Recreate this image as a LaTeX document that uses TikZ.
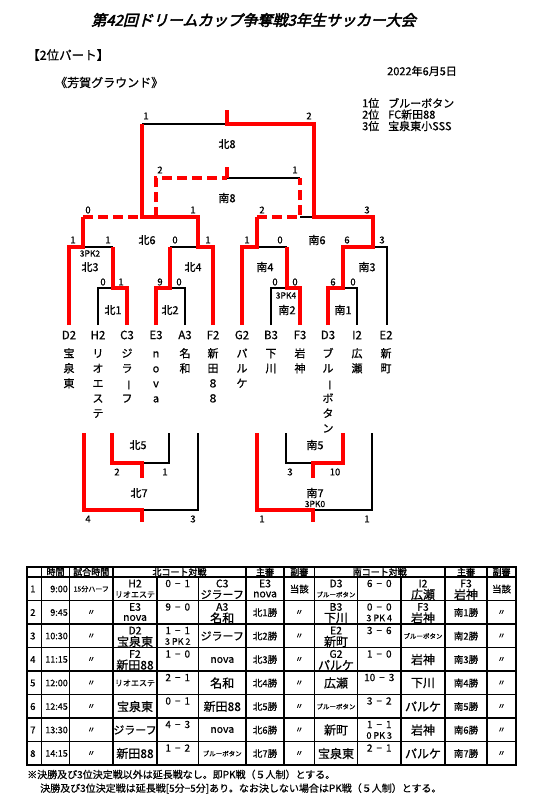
\documentclass[tikz,border=0pt]{standalone}
\usepackage{fontspec}
\setmainfont{Noto Sans CJK JP}[FakeBold=0.6]
\newfontfamily\titlefont[FakeSlant=0.25,FakeBold=3]{Noto Sans CJK JP}
\newfontfamily\boldjp[FakeBold=1.8]{Noto Sans CJK JP}
\newcommand\fsz[1]{\fontsize{#1}{#1}\selectfont}
\newcommand\vbar{\rotatebox[origin=c]{-90}{ー}}
\newcommand\scr[2]{#1\hspace{4pt}−\hspace{4pt}#2}
\newcommand\tcell[6]{\node[cd] (#1a) at (#2,#3+6.5) {#4}; \node[#5] (#1b) at (#2,#3+17.5) {#6};}
\begin{document}
\begin{tikzpicture}[x=1pt,y=-1pt,
  rl/.style={draw=red,line width=3.6pt},
  rd/.style={draw=red,line width=3.6pt,dash pattern=on 10pt off 5pt},
  bl/.style={draw=black,line width=1.6pt},
  tl/.style={draw=black,line width=1.2pt},
  sc/.style={inner sep=0,font=\fsz{9.5}},
  mt/.style={inner sep=0,font=\fsz{11}},
  pkb/.style={inner sep=0,font=\fsz{8.5}},
  cd/.style={inner sep=0,font=\fsz{10.5}},
  nm/.style={inner sep=0,font=\fsz{12}},
  nmm/.style={inner sep=0,font=\fsz{11}},
  sm/.style={inner sep=0,font=\fsz{8}},
  xs/.style={inner sep=0,font=\fsz{6.5}},
  sr/.style={inner sep=0,font=\fsz{10}},
  pkt/.style={inner sep=0,font=\fsz{9}},
  wn/.style={inner sep=0,font=\fsz{9.5}},
  dt/.style={inner sep=0,font=\fsz{8}},
  hd/.style={inner sep=0,font=\boldjp\fsz{9}},
  tc/.style={inner sep=0,font=\fsz{11.5}},
  tn/.style={inner sep=0,font=\fontsize{11}{15}\selectfont,align=center,anchor=north}
]
\useasboundingbox (0,0) rectangle (535,795);
\fill[white] (0,0) rectangle (535,795);

% headings
\node[inner sep=0,font=\titlefont\fsz{15}] (title) at (253.5,20) {第42回ドリームカップ争奪戦3年生サッカー大会};
\node[inner sep=0,font=\fsz{12.5},anchor=west] (part) at (27,55) {【2位パート】};
\node[inner sep=0,font=\fsz{11},anchor=west] (date) at (387,71) {2022年6月5日};
\node[inner sep=0,font=\fsz{12},anchor=west] (ground) at (55,82.5) {《芳賀グラウンド》};
\node[inner sep=0,font=\fsz{11},anchor=west] (p1) at (362,103) {1位};
\node[inner sep=0,font=\fsz{11},anchor=west] (p1n) at (388,103) {ブルーボタン};
\node[inner sep=0,font=\fsz{11},anchor=west] (p2) at (362,114.5) {2位};
\node[inner sep=0,font=\fsz{11},anchor=west] (p2n) at (388,114.5) {FC新田88};
\node[inner sep=0,font=\fsz{11},anchor=west] (p3) at (362,126) {3位};
\node[inner sep=0,font=\fsz{11},anchor=west] (p3n) at (388,126) {宝泉東小SSS};

% ---- upper bracket: black lines
\draw[bl] (142,124) -- (227,124);
\draw[bl] (227,178) -- (300,178);
\draw[bl] (300,217) -- (314,217);
\draw[bl] (83,247) -- (113,247);
\draw[bl] (98,325) -- (98,288) -- (113,288);
\draw[bl] (170,247) -- (198,247);
\draw[bl] (185,325) -- (185,288) -- (170,288);
\draw[bl] (257,247) -- (287,247);
\draw[bl] (271,325) -- (271,288) -- (287,288);
\draw[bl] (373,247) -- (387,247) -- (387,325);
\draw[bl] (343,288) -- (357,288) -- (357,325);
% red lines
\draw[rl] (328,325) -- (328,288) -- (343,288) -- (343,247) -- (373,247) -- (373,217) -- (314,217) -- (314,124) -- (227,124) -- (227,110);
\draw[rl] (213,325) -- (213,247) -- (198,247) -- (198,217) -- (142,217) -- (142,124);
\draw[rl] (69,325) -- (69,247) -- (83,247) -- (83,217);
\draw[rd] (83,217) -- (142,217);
\draw[rd] (156,217) -- (156,178) -- (227,178);
\draw[rl] (227,178) -- (227,167);
\draw[rl] (127,325) -- (127,288) -- (113,288) -- (113,247);
\draw[rl] (156,325) -- (156,288) -- (170,288) -- (170,247);
\draw[rl] (242,325) -- (242,247) -- (257,247) -- (257,217);
\draw[rd] (257,217) -- (300,217) -- (300,178);
\draw[rl] (300,325) -- (300,288) -- (287,288) -- (287,247);

% upper labels
\node[sc] (u1) at (146,116) {1};
\node[sc] (u2) at (309,116) {2};
\node[mt] (k8) at (227,144) {北8};
\node[sc] (u3) at (160,170) {2};
\node[sc] (u4) at (295,170) {1};
\node[mt] (m8) at (227,198) {南8};
\node[sc] (u5) at (88,210) {0};
\node[sc] (u6) at (193,210) {1};
\node[sc] (u7) at (262,210) {2};
\node[sc] (u8) at (367,210) {3};
\node[sc] (v1) at (73,240) {1};
\node[sc] (v2) at (108,240) {1};
\node[mt] (k6) at (147,240) {北6};
\node[sc] (v3) at (175,240) {0};
\node[sc] (v4) at (208,240) {1};
\node[sc] (v5) at (247,240) {1};
\node[sc] (v6) at (280,240) {0};
\node[mt] (m6) at (317,240) {南6};
\node[sc] (v7) at (347,240) {6};
\node[sc] (v8) at (382,240) {3};
\node[pkb] (pk32) at (90,253.5) {3PK2};
\node[mt] (k3) at (90,267) {北3};
\node[mt] (k4) at (193,267) {北4};
\node[mt] (m4) at (265,267) {南4};
\node[mt] (m3) at (367,267) {南3};
\node[sc] (w1) at (103,282) {0};
\node[sc] (w2) at (121,282) {1};
\node[sc] (w3) at (160,282) {9};
\node[sc] (w4) at (179,282) {0};
\node[sc] (w5) at (275,282) {0};
\node[sc] (w6) at (295,282) {0};
\node[sc] (w7) at (333,282) {6};
\node[sc] (w8) at (353,282) {0};
\node[pkb] (pk34) at (286,295.5) {3PK4};
\node[mt] (k1) at (113,310) {北1};
\node[mt] (k2) at (170,310) {北2};
\node[mt] (m2) at (287,310) {南2};
\node[mt] (m1) at (343,310) {南1};

% teams
\foreach \i/\x/\c/\n in {1/69/D2/{宝\\泉\\東},2/98/H2/{リ\\オ\\エ\\ス\\テ},3/127/C3/{ジ\\ラ\\\vbar\\フ},4/156/E3/{n\\o\\v\\a},5/185/A3/{名\\和},6/213/F2/{新\\田\\８\\８},7/242/G2/{パ\\ル\\ケ},8/271/B3/{下\\川},9/300/F3/{岩\\神},10/328/D3/{ブ\\ル\\\vbar\\ボ\\タ\\ン},11/357/I2/{広\\瀬},12/386/E2/{新\\町}}{
  \node[tc] (tc\i) at (\x,335) {\c};
  \node[tn] (tn\i) at (\x,347.7) {\rule{0pt}{9.5pt}\n};
}

% ---- lower bracket
\draw[bl] (142,463) -- (169,463) -- (169,433);
\draw[bl] (142,510) -- (198,510) -- (198,433);
\draw[bl] (286,433) -- (286,463) -- (313,463);
\draw[bl] (313,510) -- (372,510) -- (372,433);
\draw[rl] (112,433) -- (112,463) -- (142,463) -- (142,478);
\draw[rl] (84,433) -- (84,510) -- (142,510) -- (142,522);
\draw[rl] (343,433) -- (343,463) -- (313,463) -- (313,478);
\draw[rl] (257,433) -- (257,510) -- (313,510) -- (313,522);
\node[mt] (k5) at (138,445) {北5};
\node[sc] (x1) at (117,472) {2};
\node[sc] (x2) at (165,472) {1};
\node[mt] (k7) at (139,493) {北7};
\node[sc] (x3) at (88,519) {4};
\node[sc] (x4) at (193,519) {3};
\node[mt] (m5) at (315,445) {南5};
\node[sc] (x5) at (290,472) {3};
\node[sc] (x6) at (335,472) {10};
\node[mt] (m7) at (315,493) {南7};
\node[pkb] (pk30) at (315,504) {3PK0};
\node[sc] (x7) at (262,519) {1};
\node[sc] (x8) at (367,519) {1};

% ---- table grid
\foreach \y in {577,600.5,624,647.5,671,694.5,718,741.5}{\draw[tl] (27,\y) -- (516,\y);}
\foreach \x in {41.5,69.5,113,246,284,314.5,445,487}{\draw[tl] (\x,567) -- (\x,765);}
\foreach \x in {157,198.5,357.5,401}{\draw[tl] (\x,577) -- (\x,765);}
\draw[line width=1.9pt] (27,567) rectangle (516,765);

% header
\node[hd] (h1) at (55.5,572) {時間};
\node[hd] (h2) at (91.25,572) {試合時間};
\node[hd] (h3) at (179.5,572) {北コート対戦};
\node[hd] (h4) at (265,572) {主審};
\node[hd] (h5) at (299.25,572) {副審};
\node[hd] (h6) at (379.75,572) {南コート対戦};
\node[hd] (h7) at (466,572) {主審};
\node[hd] (h8) at (501.5,572) {副審};

% number / time
\foreach \r/\t/\tm in {1/577/9:00,2/600.5/9:45,3/624/10:30,4/647.5/11:15,5/671/12:00,6/694.5/12:45,7/718/13:30,8/741.5/14:15}{
  \node[wn,anchor=west] (no\r) at (30,\t+12) {\r};
  \node[inner sep=0,font=\fsz{9},anchor=east] (tm\r) at (68,\t+12) {\tm};
}
\foreach \r/\t/\p in {2/600.5/1,3/624/2,4/647.5/3,5/671/4,6/694.5/5,7/718/6,8/741.5/7}{
  \node[dt] (dd\r) at (91.25,\t+12) {〃};
  \node[wn] (nj\r) at (265,\t+12) {北\p 勝};
  \node[dt] (nf\r) at (299.25,\t+12) {〃};
  \node[wn] (sj\r) at (466,\t+12) {南\p 勝};
  \node[dt] (sf\r) at (501.5,\t+12) {〃};
}
\node[inner sep=0,font=\fsz{7}] (half) at (91.25,589) {15分ハーフ};

% row 1
\tcell{ra}{135}{577}{H2}{sm}{リオエステ}
\node[sr] (rs1) at (177.75,583.5) {\scr{0}{1}};
\tcell{rb}{222.25}{577}{C3}{nmm}{ジラーフ}
\tcell{rc}{265}{577}{E3}{cd}{nova}
\node[wn] (rf1) at (299.25,589) {当該};
\tcell{rd}{336}{577}{D3}{xs}{ブルーボタン}
\node[sr] (rS1) at (379.25,583.5) {\scr{6}{0}};
\tcell{re}{423}{577}{I2}{nm}{広瀬}
\tcell{rg}{466}{577}{F3}{nm}{岩神}
\node[wn] (rF1) at (501.5,589) {当該};
% row 2
\tcell{sa}{135}{600.5}{E3}{cd}{nova}
\node[sr] (rs2) at (177.75,607) {\scr{9}{0}};
\tcell{sb}{222.25}{600.5}{A3}{nm}{名和}
\tcell{sd}{336}{600.5}{B3}{nm}{下川}
\node[sr] (rS2) at (379.25,607) {\scr{0}{0}};
\node[pkt] (rP2) at (379.25,618) {3 PK 4};
\tcell{se}{423}{600.5}{F3}{nm}{岩神}
% row 3
\tcell{ta}{135}{624}{D2}{nm}{宝泉東}
\node[sr] (rs3) at (177.75,630.5) {\scr{1}{1}};
\node[pkt] (rp3) at (177.75,641.5) {3 PK 2};
\node[nmm] (tb) at (222.25,636) {ジラーフ};
\tcell{td}{336}{624}{E2}{nm}{新町}
\node[sr] (rS3) at (379.25,630.5) {\scr{3}{6}};
\node[xs] (te) at (423,636) {ブルーボタン};
% row 4
\tcell{ua}{135}{647.5}{F2}{nm}{新田88}
\node[sr] (rs4) at (177.75,654) {\scr{1}{0}};
\node[cd] (ub) at (222.25,660) {nova};
\tcell{ud}{336}{647.5}{G2}{nm}{パルケ}
\node[sr] (rS4) at (379.25,654) {\scr{1}{0}};
\node[nm] (ue) at (423,659.5) {岩神};
% row 5
\node[sm] (va) at (135,683) {リオエステ};
\node[sr] (rs5) at (177.75,677.5) {\scr{2}{1}};
\node[nm] (vb) at (222.25,683) {名和};
\node[nm] (vd) at (336,683) {広瀬};
\node[sr] (rS5) at (379.25,677.5) {\scr{10}{3}};
\node[nm] (ve) at (423,683) {下川};
% row 6
\node[nm] (wa) at (135,706.5) {宝泉東};
\node[sr] (rs6) at (177.75,701) {\scr{0}{1}};
\node[nm] (wb) at (222.25,706.5) {新田88};
\node[xs] (wd) at (336,706.5) {ブルーボタン};
\node[sr] (rS6) at (379.25,701) {\scr{3}{2}};
\node[nm] (we) at (423,706.5) {パルケ};
% row 7
\node[nmm] (ya) at (135,730) {ジラーフ};
\node[sr] (rs7) at (177.75,724.5) {\scr{4}{3}};
\node[cd] (yb) at (222.25,730) {nova};
\node[nm] (yd) at (336,730) {新町};
\node[sr] (rS7) at (379.25,724.5) {\scr{1}{1}};
\node[pkt] (rP7) at (379.25,735.5) {0 PK 3};
\node[nm] (ye) at (423,730) {岩神};
% row 8
\node[nm] (za) at (135,753.5) {新田88};
\node[sr] (rs8) at (177.75,748) {\scr{1}{2}};
\node[xs] (zb) at (222.25,753.5) {ブルーボタン};
\node[nm] (zd) at (336,753.5) {宝泉東};
\node[sr] (rS8) at (379.25,748) {\scr{2}{1}};
\node[nm] (ze) at (423,753.5) {パルケ};

% footer
\node[inner sep=0,font=\fsz{10},anchor=west] (f1) at (27,774.5) {※決勝及び3位決定戦以外は延長戦なし。即PK戦（５人制）とする。};
\node[inner sep=0,font=\fsz{10},anchor=west] (f2) at (40,788.5) {決勝及び3位決定戦は延長戦[5分−5分]あり。なお決しない場合はPK戦（５人制）とする。};
\end{tikzpicture}
\end{document}
